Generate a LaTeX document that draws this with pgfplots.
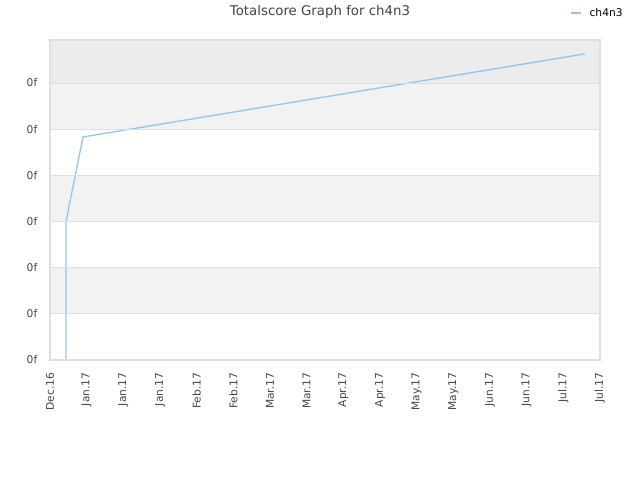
\documentclass[border=0pt]{standalone}
\usepackage{pgfplots}
\pgfplotsset{compat=1.18}
\usepackage{fontspec}
\setmainfont{DejaVu Sans}
\definecolor{lineblue}{HTML}{95C5F3}
\definecolor{bandgrey}{HTML}{F2F2F2}
\definecolor{topgrey}{HTML}{ECECEC}
\definecolor{gridgrey}{HTML}{DFDFDF}
\definecolor{labelgrey}{HTML}{444444}
\begin{document}
\begin{tikzpicture}
\fill[white] (0pt,0pt) rectangle (480pt,360pt);
\node[font=\fontsize{10}{12}\selectfont, text=labelgrey] at (240pt,351pt) {Totalscore Graph for ch4n3};
\begin{axis}[
  axis on top,
  at={(37.5pt,90pt)}, anchor=south west,
  scale only axis,
  width=412.5pt, height=240pt,
  xmin=0, xmax=15, ymin=0, ymax=6.93,
  xtick={0,...,15},
  xticklabels={Dec.16,Jan.17,Jan.17,Jan.17,Feb.17,Feb.17,Mar.17,Mar.17,Apr.17,Apr.17,May.17,May.17,Jun.17,Jun.17,Jul.17,Jul.17},
  ytick={0,...,6},
  yticklabels={0f,0f,0f,0f,0f,0f,0f},
  major tick length=0pt,
  ymajorgrids,
  grid style={gridgrey, line width=0.6pt},
  axis line style={gridgrey, line width=0.8pt},
  xticklabel style={rotate=90, anchor=east, xshift=-6pt, font=\fontsize{8}{9}\selectfont, text=labelgrey},
  yticklabel style={xshift=-6pt, font=\fontsize{8}{9}\selectfont, text=labelgrey},
  /pgf/number format/assume math mode=true,
  legend style={at={(0.945,1.084)}, anchor=west, draw=none, fill=none,
    font=\fontsize{8}{9}\selectfont, text=black, inner sep=0pt},
  legend image code/.code={\draw[#1, line width=1.2pt] (0pt,0pt) -- (7.5pt,0pt);},
]
\addplot[fill=topgrey, draw=none, forget plot] coordinates {(0,6) (15,6) (15,6.93) (0,6.93)} -- cycle;
\addplot[fill=bandgrey, draw=none, forget plot] coordinates {(0,5) (15,5) (15,6) (0,6)} -- cycle;
\addplot[fill=bandgrey, draw=none, forget plot] coordinates {(0,3) (15,3) (15,4) (0,4)} -- cycle;
\addplot[fill=bandgrey, draw=none, forget plot] coordinates {(0,1) (15,1) (15,2) (0,2)} -- cycle;
\addplot[lineblue, line width=1pt] coordinates {
(0.436,0)
(0.436,3)
(0.9,4.83)
(14.59,6.63)
};
\addlegendentry{\hspace{4pt}ch4n3}
\end{axis}
\end{tikzpicture}
\end{document}
